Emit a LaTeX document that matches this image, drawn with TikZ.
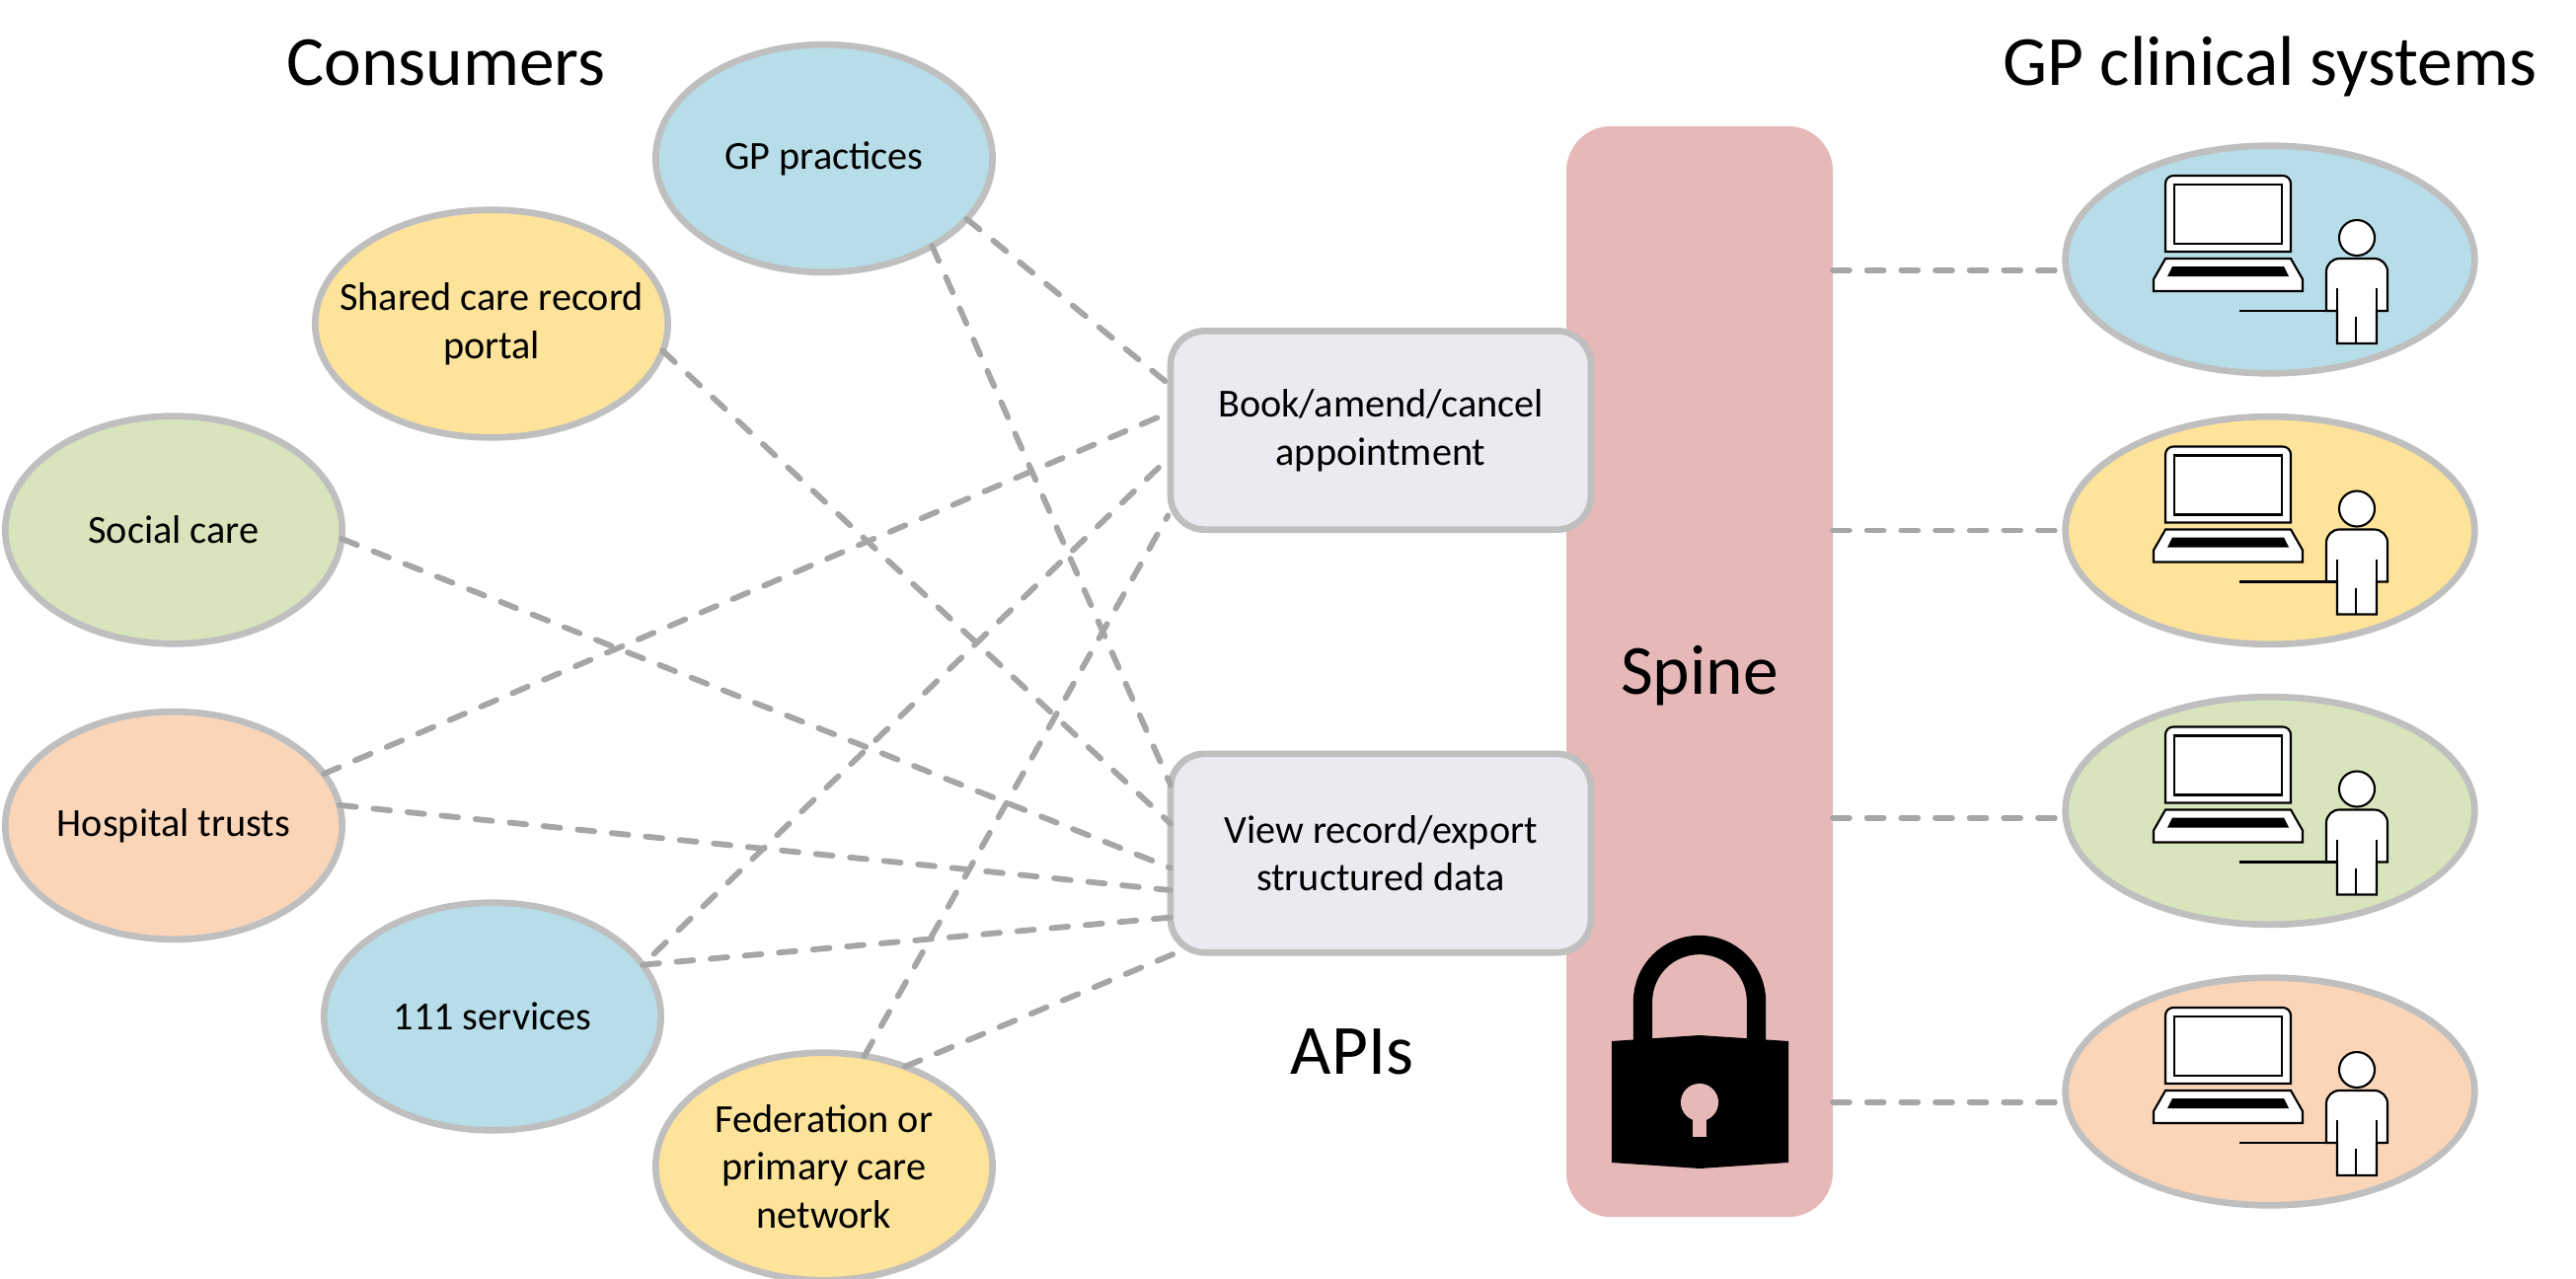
\documentclass[tikz,border=0pt]{standalone}
\usepackage{fontspec}
\setmainfont{Carlito}
\usetikzlibrary{shapes.geometric}
\definecolor{cblue}{HTML}{B7DDE8}
\definecolor{cyellow}{HTML}{FEE39A}
\definecolor{cgreen}{HTML}{D8E4BC}
\definecolor{cpeach}{HTML}{FBD5B8}
\definecolor{cbox}{HTML}{ECEAF1}
\definecolor{cspine}{HTML}{E6B9B8}
\definecolor{cstroke}{HTML}{BFBFBF}
\definecolor{cdash}{HTML}{A6A6A6}
\tikzset{
  bubble/.style={ellipse,draw=cstroke,line width=5pt,inner sep=0pt,outer sep=0pt,
    minimum width=256pt,minimum height=173pt,align=center,
    font=\fontsize{30.2}{36.4}\selectfont},
  sysbubble/.style={bubble,minimum width=311pt,minimum height=173pt},
  apibox/.style={rectangle,rounded corners=26pt,draw=cstroke,fill=cbox,line width=5pt,
    inner sep=0pt,outer sep=0pt,minimum width=319.5pt,minimum height=151pt,align=center,
    font=\fontsize{30.2}{36.4}\selectfont},
  heading/.style={font=\fontsize{53.6}{60}\selectfont,inner sep=0pt},
  link/.style={draw=cdash,line width=4.4pt,line cap=round,dash pattern=on 12.6pt off 13.4pt},
  icon/.style={draw=black,line width=1.6pt,fill=white,line join=miter}
}
\newcommand{\gpicon}[1]{%
  \begin{scope}[shift={(#1)}]
    \path[icon] (-106,-8) [rounded corners=6pt] -- (-106,-85) -- (21,-85) [sharp corners] -- (21,-8) -- cycle;
    \path[icon] (-97,-16) -- (-97,-76) -- (12,-76) -- (12,-16) -- cycle;
    \path[icon] (-106,-1) -- (21,-1) -- (33,20) -- (33,32) -- (-118,32) -- (-118,20) -- cycle;
    \fill[black] (-99,7) -- (14,7) -- (19,17) -- (-104,17) -- cycle;
    \path[icon] (88,-22) circle [radius=13.5pt];
    \path[icon] (57,52) [rounded corners=10pt] -- (57,-1) -- (119,-1) [sharp corners] -- (119,52) -- (108,52) -- (108,85) -- (68,85) -- (68,52) -- cycle;
    \draw[black,line width=1.6pt] (68,29) -- (68,52) (108,29) -- (108,52) (87,58) -- (87,85) (-31,52) -- (68,52);
  \end{scope}}
\begin{document}
\begin{tikzpicture}[x=0.75pt,y=-0.75pt]
\useasboundingbox (0,0) rectangle (2610,1296);
% Spine
\node[rectangle,rounded corners=34pt,fill=cspine,inner sep=0pt,outer sep=0pt,
  minimum width=202.5pt,minimum height=829pt] (spine) at (1722,680.5) {};
\node[heading] (spinelabel) at (1722,685) {Spine};
% lock
\draw[black,line width=14.5pt] (1664.5,1062) -- (1664.5,1015)
  .. controls (1664.5,983) and (1690,957.5) .. (1722,957.5)
  .. controls (1754,957.5) and (1779.5,983) .. (1779.5,1015) -- (1779.5,1062);
\fill[black] (1633,1055) -- (1722,1049) -- (1812,1055) -- (1812,1178) -- (1722,1184) -- (1633,1178) -- cycle;
\fill[cspine] (1722,1117) circle [radius=14.3pt];
\fill[cspine] (1715,1125) rectangle (1729,1152);
% API boxes
\node[apibox] (book) at (1399,436) {Book/amend/cancel\\appointment};
\node[apibox] (view) at (1399,864.5) {View record/export\\structured data};
\node[heading] (apis) at (1370,1066) {APIs};
\node[heading] (consumers) at (452,64) {Consumers};
\node[heading] (gpsys) at (2300,67) {GP clinical systems};
% consumers
\node[bubble,fill=cblue] (gp) at (835,160.5) {GP practices};
\node[bubble,fill=cyellow,minimum width=268pt,inner xsep=-22pt] (shared) at (498,328) {Shared care record\\portal};
\node[bubble,fill=cgreen] (social) at (176,537) {Social care};
\node[bubble,fill=cpeach] (hospital) at (176,836.5) {Hospital trusts};
\node[bubble,fill=cblue] (oneoneone) at (499,1030) {111 services};
\node[bubble,fill=cyellow] (fed) at (835,1182) {Federation or\\primary care\\network};
% systems
\node[sysbubble,fill=cblue] (s1) at (2300,263) {};
\node[sysbubble,fill=cyellow] (s2) at (2300,537.5) {};
\node[sysbubble,fill=cgreen] (s3) at (2300,821.5) {};
\node[sysbubble,fill=cpeach] (s4) at (2300,1106) {};
\gpicon{2300,263}
\gpicon{2300,537.5}
\gpicon{2300,821.5}
\gpicon{2300,1106}
% links
\draw[link] (gp.-23.8) -- (book.168.4);
\draw[link] (gp.-39) -- (view.162.4);
\draw[link] (shared.-9.3) -- (view.172.6);
\draw[link] (social.-3.4) -- (view.184.4);
\draw[link] (hospital.19.2) -- (book.175.6);
\draw[link] (hospital.7.5) -- (view.190.2);
\draw[link,dash phase=14pt] (oneoneone.19.7) -- (book.187.4);
\draw[link] (oneoneone.19.7) -- (view.197.4);
\draw[link,shorten >=4pt] (fed.70.5) -- (book.201.6);
\draw[link,shorten >=2pt] (fed.51.3) -- (view.206.6);
\draw[link] (s1.183 -| spine.east) -- (s1.183);
\draw[link] (s2.180 -| spine.east) -- (s2.180);
\draw[link] (s3.182.35 -| spine.east) -- (s3.182.35);
\draw[link] (s4.183.1 -| spine.east) -- (s4.183.1);
\end{tikzpicture}
\end{document}
